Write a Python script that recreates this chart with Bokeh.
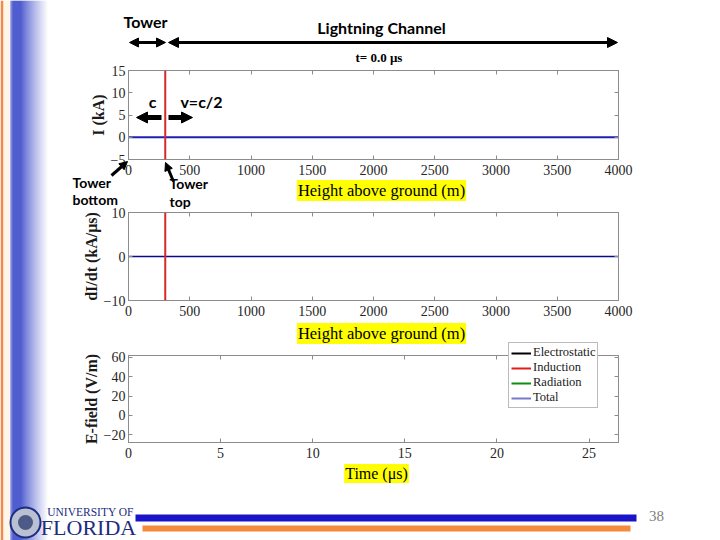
from bokeh.plotting import figure
from bokeh.models import (Label, Arrow, NormalHead, LinearAxis, FixedTicker, Range1d,
                          Legend, LegendItem, Span)
from bokeh.layouts import column
from bokeh.embed import file_html
from bokeh.resources import INLINE

# ---------------- data ----------------
height_m = [0, 4000]
current_kA = [0, 0]
didt_kA_per_us = [0, 0]
tower_top_m = 300
snapshot_time_us = 0.0

current_ticks = [-5, 0, 5, 10, 15]
didt_ticks = [-10, 0, 10]
efield_ticks = [-20, 0, 20, 40, 60]
height_ticks = [0, 500, 1000, 1500, 2000, 2500, 3000, 3500, 4000]
time_ticks = [0, 5, 10, 15, 20, 25]

# E-field at the snapshot time t = 0 (a single sample, nothing drawn yet)
time_us = [0.0]
e_electrostatic = [0.0]
e_induction = [0.0]
e_radiation = [0.0]
e_total = [0.0]
field_labels = ["Electrostatic", "Induction", "Radiation", "Total"]
field_colors = ["black", "#e01c1c", "#138a13", "#7777cc"]

# ---------------- helpers ----------------
W, H = 720, 540
FL, FR = 128, 618          # page x of frame left / right
SERIF = "Liberation Serif"
SANS = "Lato"
GRAY = "#8c8c8c"


def make_fig(top, h, ftop, fbot, xr, yr, xt, yt, ylab):
    p = figure(width=W, height=h, x_range=Range1d(*xr), y_range=Range1d(*yr),
               output_backend="svg", toolbar_location=None)
    p.min_border_left = FL
    p.min_border_right = W - FR
    p.min_border_top = ftop - top
    p.min_border_bottom = top + h - fbot
    p.xgrid.visible = False
    p.ygrid.visible = False
    p.outline_line_color = GRAY
    for ax, tk in ((p.xaxis[0], xt), (p.yaxis[0], yt)):
        ax.ticker = FixedTicker(ticks=tk)
        ax.major_tick_in = 4
        ax.major_tick_out = 0
        ax.minor_tick_line_color = None
        ax.axis_line_color = GRAY
        ax.major_tick_line_color = GRAY
        ax.major_label_text_font = SERIF
        ax.major_label_text_font_size = "14px"
        ax.major_label_text_color = "#262626"
    p.xaxis.major_label_standoff = 5
    p.yaxis.major_label_standoff = 3
    p.yaxis.axis_label = ylab
    p.yaxis.axis_label_text_font = SERIF
    p.yaxis.axis_label_text_font_style = "bold"
    p.yaxis.axis_label_text_font_size = "16px"
    p.yaxis.axis_label_text_color = "#1a1a1a"
    p.yaxis.axis_label_standoff = 1
    for loc, tk in (("above", xt), ("right", yt)):
        ax = LinearAxis(ticker=FixedTicker(ticks=tk), major_label_text_font_size="1px",
                        major_label_text_color=None, major_label_standoff=0,
                        major_tick_in=4, major_tick_out=0,
                        minor_tick_line_color=None, axis_line_color=GRAY,
                        major_tick_line_color=GRAY)
        p.add_layout(ax, loc)
    return p


# ---------------- panel 1 : current ----------------
p1 = make_fig(0, 207, 70, 159, (0, 4000), (-5, 15), height_ticks, current_ticks, "I (kA)")
p1.line(height_m, current_kA, line_color="#1f1fb4", line_width=2)
p1.add_layout(Span(location=tower_top_m, dimension="height", line_color="#d42a2a", line_width=2))

# ---------------- panel 2 : dI/dt ----------------
p2 = make_fig(207, 138, 212, 300, (0, 4000), (-10, 10), height_ticks, didt_ticks, "dI/dt (kA/\u03bcs)")
p2.line(height_m, didt_kA_per_us, line_color="#0a0a8c", line_width=1.5)
p2.add_layout(Span(location=tower_top_m, dimension="height", line_color="#d42a2a", line_width=2))

# ---------------- panel 3 : E-field ----------------
p3 = make_fig(345, 195, 355, 442, (0, 26.6), (-28, 62), time_ticks, efield_ticks, "E-field (V/m)")
for s, c in zip([e_electrostatic, e_induction, e_radiation, e_total], field_colors):
    p3.line(time_us, s, line_color=c, line_width=2)

# ---------------- slide decorations (transparent overlay figure) ----------------
d = figure(width=W, height=H, x_range=Range1d(0, W), y_range=Range1d(H, 0),
           output_backend="svg", toolbar_location=None, x_axis_type=None, y_axis_type=None)
d.min_border_left = d.min_border_right = d.min_border_top = d.min_border_bottom = 0
d.frame_align = False
d.outline_line_color = None
d.background_fill_alpha = 0
d.border_fill_alpha = 0
d.xgrid.visible = False
d.ygrid.visible = False
d.margin = (-H, 0, 0, 0)

band_l, band_r, band_c = [0, 3], [3, 10], ["#f08a4b", "#fff6ea"]
for px in range(10, 48):
    if px < 12:
        c = (80, 96, 208)
    elif px < 20:
        c = (22, 40, 190)
    else:
        t = ((px - 20) / 27.0) ** 0.85
        c = tuple(int(a + (255 - a) * t) for a in (22, 40, 190))
    band_l.append(px)
    band_r.append(px + 1)
    band_c.append("#%02x%02x%02x" % c)
d.quad(left=band_l, right=band_r, top=0, bottom=H, fill_color=band_c, line_color=None)


def lab(px, py, text, font=SANS, size=14, style="normal", color="black",
        align="center", bg=None):
    d.add_layout(Label(x=px, y=py, text=text, text_font=font, text_font_size=f"{size}px",
                       text_font_style=style, text_color=color, text_align=align,
                       text_baseline="middle", background_fill_color=bg, padding=1))


def arrow(x0, y0, x1, y1, lw=3, size=10, both=False):
    head = lambda: NormalHead(size=size, fill_color="black", line_color="black")
    d.add_layout(Arrow(x_start=x0, y_start=y0, x_end=x1, y_end=y1,
                       line_width=lw, line_color="black",
                       end=head(), start=head() if both else None))


lab(145, 21, "Tower", size=16, style="bold")
lab(381, 27, "Lightning Channel", size=16, style="bold")
arrow(129, 42, 165, 42, lw=3, size=9, both=True)
arrow(168, 42, 617, 42, lw=3, size=10, both=True)
lab(380, 57, f"t= {snapshot_time_us:.1f}  \u03bcs", font=SERIF, size=13, style="bold")
lab(152, 101, "c", size=16, style="bold")
lab(201, 101, "v=c/2", size=16, style="bold")
arrow(161, 117, 136, 117, lw=5, size=11)
arrow(168, 117, 192, 117, lw=5, size=11)
lab(71, 182, "Tower", size=14, style="bold", align="left")
lab(71, 199, "bottom", size=14, style="bold", align="left")
arrow(111, 175, 127, 161, lw=3, size=8)
lab(168, 183, "Tower", size=14, style="bold", align="left")
lab(168, 201, "top", size=14, style="bold", align="left")
arrow(173, 181, 165, 162, lw=3, size=8)
lab(381, 190, "Height above ground (m)", font=SERIF, size=16.5, bg="#ffff00")
lab(381, 333, "Height above ground (m)", font=SERIF, size=16.5, bg="#ffff00")
lab(376, 473, "Time (\u03bcs)", font=SERIF, size=16, bg="#ffff00")

# legend of the E-field panel (same styles as the panel's series)
items = []
for name, s, c in zip(field_labels, [e_electrostatic, e_induction, e_radiation, e_total], field_colors):
    r = d.line(time_us, s, line_color=c, line_width=2)
    items.append(LegendItem(label=name, renderers=[r]))
legend = Legend(items=items, location=(508, H - 408), margin=0, padding=2, spacing=0,
                glyph_width=20, glyph_height=14, label_height=14, label_standoff=2,
                label_text_font=SERIF, label_text_font_size="12.5px",
                label_text_color="#1a1a1a",
                border_line_color="#777777", background_fill_color="white",
                background_fill_alpha=1)
d.add_layout(legend)

# footer
d.quad(left=[135, 142], right=[636, 630], top=[514, 525], bottom=[521, 531],
       fill_color=["#1a14c8", "#f58b3a"], line_color=None)
lab(656, 515, "38", font=SERIF, size=15, color="#7f7f7f")
d.scatter([25], [522], marker="circle", size=30, fill_color="#b9c0d2",
          line_color="#1c2c80", line_width=2)
d.scatter([25], [522], marker="circle", size=15, fill_color="#4d5a86", line_color=None)
lab(90, 511, "UNIVERSITY OF", font=SERIF, size=11.5, color="#1c2c80")
lab(88, 527, "FLORIDA", font=SERIF, size=22, color="#1c2c80")

layout = column(p1, p2, p3, d, spacing=0)
open("out.html", "w").write(file_html(layout, INLINE))
